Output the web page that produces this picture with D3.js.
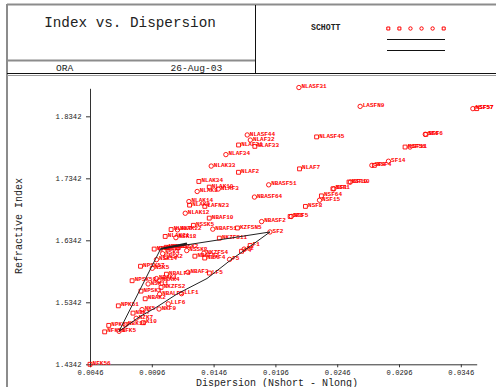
<!DOCTYPE html>
<html>
<head>
<meta charset="utf-8">
<script src="https://cdn.jsdelivr.net/npm/d3@7"></script>
<style>
  html, body { margin: 0; padding: 0; background: #fff; }
  svg { display: block; }
</style>
</head>
<body>
<div id="container"></div>
<script>
// glass map data
const glassNames = [
    'NFK56', 'NFK51', 'NPK52', 'NFK5', 'NPK51', 'NBK10', 'NBK7', 'NZK7', 'K10', 'NK5',
    'NBAK2', 'NKF9', 'LLF6', 'NPSK3', 'NSK11', 'NPSK58', 'NBAK1', 'NBAK4', 'NBALF5', 'NKZFS2',
    'LLF1', 'NBALF4', 'NSK5', 'NPSK57', 'NBAF3', 'LF5', 'NSK14', 'NSK2', 'NSK4', 'NBAF52',
    'NKZFS4', 'NBAF4', 'F5', 'F4', 'F2', 'F1', 'NPSK53', 'NSK16', 'NSK15', 'NSK10',
    'NSSK2', 'NSSK8', 'NLAK21', 'NSK18', 'NKZFS11', 'SF2', 'NLAK7', 'NLAK22', 'NSSK5', 'NBAF51',
    'KZFSN5', 'NBASF2', 'NBAF10', 'NLAK12', 'NLAK9', 'NLAK14', 'LAFN23', 'NLAK8', 'NLAK10', 'NLAF3',
    'NLAK34', 'NLAK33', 'NLAF2', 'NLAF34', 'NLAF21', 'NLAF32', 'NLAF33', 'NLASF44', 'NBASF64', 'NBASF51',
    'NLAF7', 'NLASF45', 'NLASF31', 'LASFN9', 'NSF5', 'SF5', 'NSF8', 'NSF15', 'NSF64', 'NSF1',
    'SF1', 'NSF10', 'SF10', 'SF4', 'NSF4', 'SF14', 'NSF56', 'SF11', 'NSF6', 'SF6',
    'NSF57', 'SF57',
];
const glassDispersion = [
    0.004574, 0.005760, 0.006090, 0.006924, 0.006866, 0.007437, 0.008054, 0.008310, 0.008890, 0.008784,
    0.009040, 0.010160, 0.010904, 0.008700, 0.009274, 0.007980, 0.009948, 0.010160, 0.010207, 0.010325,
    0.011981, 0.010758, 0.009615, 0.008660, 0.012494, 0.014233, 0.009953, 0.010720, 0.010450, 0.013060,
    0.013787, 0.013854, 0.015867, 0.016833, 0.017040, 0.017532, 0.009767, 0.010287, 0.010740, 0.010930,
    0.011680, 0.012400, 0.010657, 0.011522, 0.015039, 0.019134, 0.011135, 0.011651, 0.012941, 0.014507,
    0.016500, 0.018457, 0.014223, 0.012280, 0.012630, 0.012575, 0.013864, 0.013245, 0.014224, 0.014950,
    0.013380, 0.014380, 0.016588, 0.015566, 0.016593, 0.017545, 0.017910, 0.017295, 0.017877, 0.019030,
    0.021525, 0.022907, 0.021475, 0.026430, 0.020859, 0.020767, 0.022004, 0.023143, 0.023297, 0.024230,
    0.024300, 0.025530, 0.025640, 0.027380, 0.027580, 0.028720, 0.030065, 0.030463, 0.031750, 0.031700,
    0.035550, 0.035860,
];
const glassIndex = [
    1.43425, 1.48656, 1.49700, 1.48749, 1.52855, 1.49782, 1.51680, 1.50847, 1.50137, 1.52249,
    1.53996, 1.52346, 1.53172, 1.55232, 1.56384, 1.56907, 1.57250, 1.56883, 1.54739, 1.55836,
    1.54814, 1.57956, 1.58913, 1.59240, 1.58272, 1.58144, 1.60311, 1.60738, 1.61272, 1.60863,
    1.61336, 1.60568, 1.60342, 1.61659, 1.62004, 1.62588, 1.62014, 1.62041, 1.62296, 1.62280,
    1.62229, 1.61773, 1.64049, 1.63854, 1.63775, 1.64769, 1.65160, 1.65113, 1.65844, 1.65224,
    1.65412, 1.66446, 1.67003, 1.67790, 1.69100, 1.69680, 1.68900, 1.71300, 1.72003, 1.71700,
    1.72916, 1.75400, 1.74397, 1.77250, 1.78800, 1.79600, 1.78582, 1.80420, 1.70400, 1.72373,
    1.74950, 1.80107, 1.88067, 1.85025, 1.67271, 1.67270, 1.68894, 1.69892, 1.70591, 1.71736,
    1.71736, 1.72825, 1.72825, 1.75520, 1.75513, 1.76182, 1.78470, 1.78472, 1.80518, 1.80518,
    1.84666, 1.84666,
];
// marker kind: 'c' circle, 's' square
const glassKind = [
    's', 's', 's', 'c', 's', 'c', 's', 'c', 's', 'c',
    's', 'c', 'c', 's', 'c', 's', 'c', 's', 'c', 's',
    'c', 's', 'c', 's', 'c', 's', 'c', 's', 'c', 's',
    'c', 's', 'c', 's', 'c', 's', 's', 'c', 's', 'c',
    's', 'c', 's', 'c', 's', 'c', 's', 'c', 's', 'c',
    's', 'c', 's', 'c', 's', 'c', 's', 'c', 's', 'c',
    's', 'c', 's', 'c', 's', 'c', 's', 'c', 'c', 'c',
    's', 's', 'c', 'c', 'c', 's', 's', 'c', 's', 's',
    'c', 's', 'c', 'c', 's', 'c', 's', 'c', 's', 'c',
    'c', 's',
];

// glass lines
const upperLineDispersion = [0.006924, 0.010287, 0.019134];
const upperLineIndex = [1.48749, 1.62041, 1.64769];
const boldLineDispersion = [0.010287, 0.012422];
const boldLineIndex = [1.62041, 1.62909];
const lowerLineDispersion = [0.006924, 0.008619, 0.009914, 0.011613, 0.014040, 0.016063, 0.017681, 0.019134];
const lowerLineIndex = [1.48749, 1.51135, 1.52586, 1.54764, 1.57264, 1.60409, 1.62667, 1.64769];

// axes
const xDomain = [0.004574, 0.03586];
const yDomain = [1.43425, 1.87945];
const xTickValues = [0.004574, 0.009574, 0.014574, 0.019574, 0.024574, 0.029574, 0.034574];
const xTickLabels = ['0.0046', '0.0096', '0.0146', '0.0196', '0.0246', '0.0296', '0.0346'];
const yTickValues = [1.43425, 1.53425, 1.63425, 1.73425, 1.83425];
const yTickLabels = ['1.4342', '1.5342', '1.6342', '1.7342', '1.8342'];

const legendKinds = ['s', 's', 'c', 'c', 'c', 's'];

const width = 496;
const height = 387;
const red = '#ff0000';
const mono = '"Liberation Mono", "DejaVu Sans Mono", monospace';

const svg = d3.select('#container')
    .append('svg')
        .attr('width', width)
        .attr('height', height);

// frame
const frame = svg.append('g').attr('fill', 'none');
frame.append('line').attr('x1', 7).attr('x2', width).attr('y1', 4.5).attr('y2', 4.5)
    .attr('stroke', '#8c8c8c').attr('stroke-width', 2);
frame.append('line').attr('x1', 7).attr('x2', 7).attr('y1', 4).attr('y2', height)
    .attr('stroke', '#8c8c8c').attr('stroke-width', 2);
frame.append('line').attr('x1', 7).attr('x2', 255.5).attr('y1', 60.5).attr('y2', 60.5)
    .attr('stroke', '#8c8c8c').attr('stroke-width', 2);
frame.append('line').attr('x1', 255.5).attr('x2', 255.5).attr('y1', 5).attr('y2', 73.5)
    .attr('stroke', '#111').attr('stroke-width', 1);
frame.append('line').attr('x1', 7).attr('x2', width).attr('y1', 73.5).attr('y2', 73.5)
    .attr('stroke', '#111').attr('stroke-width', 1);
frame.append('line').attr('x1', 7).attr('x2', width).attr('y1', 75.5).attr('y2', 75.5)
    .attr('stroke', '#9a9a9a').attr('stroke-width', 1);

// header texts
const header = svg.append('g').attr('font-family', mono).attr('fill', '#222');
header.append('text').attr('x', 130).attr('y', 27).attr('text-anchor', 'middle')
    .attr('font-size', 14.3).text('Index vs. Dispersion');
header.append('text').attr('x', 56).attr('y', 70.5).attr('font-size', 9.6).text('ORA');
header.append('text').attr('x', 170.5).attr('y', 70.5).attr('font-size', 9.6).text('26-Aug-03');
header.append('text').attr('x', 311).attr('y', 29.5).attr('font-size', 8.2)
    .attr('font-weight', 'bold').text('SCHOTT');

// scales
const x = d3.scaleLinear().domain(xDomain).range([90, 476.7]);
const y = d3.scaleLinear().domain(yDomain).range([364.3, 88.3]);

const symbolType = d3.scaleOrdinal().domain(['c', 's']).range([d3.symbolCircle, d3.symbolSquare]);
const marker = k => d3.symbol().type(symbolType(k)).size(15)();

// legend
const legendX = d3.scalePoint().domain(d3.range(legendKinds.length)).range([388.3, 443.7]);
svg.append('g')
    .attr('class', 'legend')
    .selectAll('path')
    .data(legendKinds)
        .enter()
        .append('path')
        .attr('d', d => d3.symbol().type(symbolType(d)).size(9)())
        .attr('transform', (d, i) => `translate(${legendX(i)}, 28.5)`)
        .attr('fill', 'none')
        .attr('stroke', red)
        .attr('stroke-width', 1);
svg.append('g')
    .attr('class', 'legendLines')
    .selectAll('line')
    .data(['upper', 'lower'])
        .enter()
        .append('line')
        .attr('x1', 387).attr('x2', 445)
        .attr('y1', (d, i) => 39.5 + i * 11).attr('y2', (d, i) => 39.5 + i * 11)
        .attr('stroke', '#111').attr('stroke-width', 1);

// axes
const xAxis = d3.axisBottom(x)
    .tickValues(xTickValues)
    .tickFormat((d, i) => xTickLabels[i])
    .tickSize(3)
    .tickSizeOuter(0)
    .tickPadding(3);
const yAxis = d3.axisLeft(y)
    .tickValues(yTickValues)
    .tickFormat((d, i) => yTickLabels[i])
    .tickSize(4)
    .tickSizeOuter(0)
    .tickPadding(4.5);

svg.append('g')
    .attr('class', 'xAxis')
    .attr('transform', 'translate(0, 364.3)')
    .call(xAxis)
    .call(g => g.attr('font-family', mono).attr('font-size', 7.2))
    .call(g => g.selectAll('path, line').attr('stroke', '#333'))
    .call(g => g.selectAll('text').attr('fill', '#222'));
svg.append('g')
    .attr('class', 'yAxis')
    .attr('transform', 'translate(90, 0)')
    .call(yAxis)
    .call(g => g.attr('font-family', mono).attr('font-size', 7.2))
    .call(g => g.selectAll('path, line').attr('stroke', '#333'))
    .call(g => g.selectAll('text').attr('fill', '#222'));

// axis titles
svg.append('text')
    .attr('font-family', mono).attr('font-size', 10).attr('fill', '#222')
    .attr('text-anchor', 'middle')
    .attr('transform', 'translate(21.5, 226) rotate(-90)')
    .text('Refractive Index');
svg.append('text')
    .attr('font-family', mono).attr('font-size', 10).attr('fill', '#222')
    .attr('text-anchor', 'middle')
    .attr('x', 277).attr('y', 385.5)
    .text('Dispersion (Nshort - Nlong)');

// glasses
const glasses = glassNames.map((name, i) => ({
    name,
    d: glassDispersion[i],
    n: glassIndex[i],
    kind: glassKind[i],
}));

const points = svg.append('g')
    .attr('class', 'glasses')
    .selectAll('g')
    .data(glasses)
        .enter()
        .append('g')
        .attr('transform', d => `translate(${x(d.d)}, ${y(d.n)})`);
points.append('path')
    .attr('d', d => marker(d.kind))
    .attr('fill', 'none')
    .attr('stroke', red)
    .attr('stroke-width', 0.9);
points.append('text')
    .attr('x', 2.6)
    .attr('y', 0.6)
    .attr('font-family', mono)
    .attr('font-size', 6)
    .attr('font-weight', 'bold')
    .attr('fill', red)
    .text(d => d.name);

// glass lines
const line = d3.line().x(d => x(d[0])).y(d => y(d[1]));
const lines = [
    {pts: d3.zip(upperLineDispersion, upperLineIndex), w: 1},
    {pts: d3.zip(boldLineDispersion, boldLineIndex), w: 2},
    {pts: d3.zip(lowerLineDispersion, lowerLineIndex), w: 1},
];
svg.append('g')
    .attr('class', 'glassLines')
    .selectAll('path')
    .data(lines)
        .enter()
        .append('path')
        .attr('d', d => line(d.pts))
        .attr('fill', 'none')
        .attr('stroke', '#222')
        .attr('stroke-width', d => d.w);
</script>
</body>
</html>
